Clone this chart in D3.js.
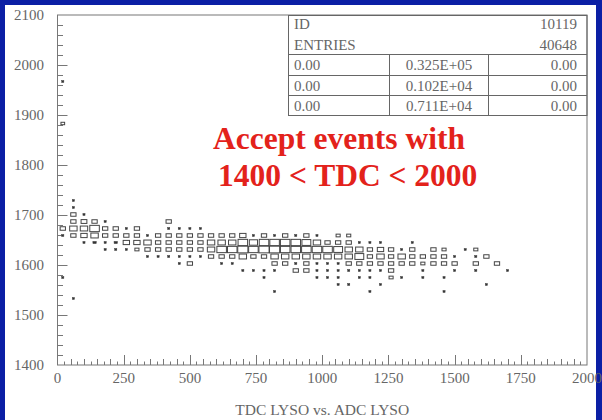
<!DOCTYPE html>
<html>
<head>
<meta charset="utf-8">
<script src="https://cdn.jsdelivr.net/npm/d3@7/dist/d3.min.js"></script>
<style>
	body { margin: 0; background: #0b1fa5; }
	svg { display: block; }
</style>
</head>
<body>
<script>
// 2D histogram: ADC LYSO (x, 40 wide bins from 0) vs TDC LYSO (y, 14 wide bins from 1400)
var adcBinWidth = 40;
var tdcBinWidth = 14;

// lower edge of each TDC bin that has entries
var tdcBins = [1960, 1876, 1722, 1708, 1694, 1680, 1666, 1652, 1638, 1624, 1610, 1596, 1582, 1568, 1554, 1540, 1526];

// counts per ADC bin (0..42) for each TDC bin
var tdc1960 = [40,0,0,0,0,0,0,0,0,0, 0,0,0,0,0,0,0,0,0,0, 0,0,0,0,0,0,0,0,0,0, 0,0,0,0,0,0,0,0,0,0, 0,0,0];
var tdc1876 = [120,0,0,0,0,0,0,0,0,0, 0,0,0,0,0,0,0,0,0,0, 0,0,0,0,0,0,0,0,0,0, 0,0,0,0,0,0,0,0,0,0, 0,0,0];
var tdc1722 = [0,40,0,0,0,0,0,0,0,0, 0,0,0,0,0,0,0,0,0,0, 0,0,0,0,0,0,0,0,0,0, 0,0,0,0,0,0,0,0,0,0, 0,0,0];
var tdc1708 = [0,40,0,0,0,0,0,0,0,0, 0,0,0,0,0,0,0,0,0,0, 0,0,0,0,0,0,0,0,0,0, 0,0,0,0,0,0,0,0,0,0, 0,0,0];
var tdc1694 = [0,250,40,0,0,0,0,0,0,0, 0,0,0,0,0,0,0,0,0,0, 0,0,0,0,0,0,0,0,0,0, 0,0,0,0,0,0,0,0,0,0, 0,0,0];
var tdc1680 = [0,250,300,250,40,0,0,0,0,0, 250,0,0,0,0,0,0,0,0,0, 0,0,0,0,0,0,0,0,0,0, 0,0,0,0,0,0,0,0,0,0, 0,0,0];
var tdc1666 = [250,490,490,810,250,250,40,250,0,0, 40,40,40,40,0,0,0,0,0,0, 0,0,0,0,0,0,0,0,0,0, 0,0,0,0,0,0,0,0,0,0, 0,0,0];
var tdc1652 = [40,250,360,490,250,250,250,250,40,250, 250,250,250,250,250,250,250,360,40,250, 40,250,40,250,40,0,150,150,0,0, 0,0,0,0,0,0,0,0,0,0, 0,0,0];
var tdc1638 = [0,0,40,100,40,100,360,360,490,250, 250,250,250,250,490,490,490,810,600,810, 810,810,810,700,490,250,250,250,40,40, 40,0,0,40,0,0,0,0,0,0, 0,0,0];
var tdc1624 = [0,0,0,0,40,40,40,150,250,250, 250,250,250,250,490,810,810,920,810,920, 920,810,810,810,810,810,700,490,490,250, 360,250,40,250,0,250,150,0,40,150, 0,0,0];
var tdc1610 = [0,0,0,0,0,0,0,0,40,40, 40,40,40,40,250,250,250,490,250,250, 490,490,490,490,490,490,490,490,700,250, 490,250,490,250,250,250,250,40,0,40, 250,0,0];
var tdc1596 = [0,0,0,0,0,0,0,0,0,0, 0,40,250,0,0,40,40,0,0,0, 250,250,40,250,40,40,40,250,250,250, 250,250,250,250,150,250,250,250,0,250, 0,250,0];
var tdc1582 = [0,0,0,0,0,0,0,0,0,0, 0,0,0,0,0,0,0,40,40,40, 40,0,250,250,40,40,40,40,40,40, 40,250,0,0,40,0,0,40,0,40, 0,0,40];
var tdc1568 = [40,0,0,0,0,0,0,0,0,0, 0,0,0,0,0,0,0,0,0,40, 0,0,0,0,40,40,40,0,40,40, 0,150,40,0,40,0,40,0,0,0, 0,0,0];
var tdc1554 = [0,0,0,0,0,0,0,0,0,0, 0,0,0,0,0,0,0,0,0,0, 0,0,0,0,0,0,40,40,0,0, 40,0,0,0,0,0,0,0,0,0, 40,0,0];
var tdc1540 = [0,0,0,0,0,0,0,0,0,0, 0,0,0,0,0,0,0,0,0,0, 40,0,0,0,0,0,0,0,0,40, 0,0,0,0,0,0,40,0,0,0, 0,0,0];
var tdc1526 = [0,40,0,0,0,0,0,0,0,0, 0,0,0,0,0,0,0,0,0,0, 0,0,0,0,0,0,0,0,0,0, 0,0,0,0,0,0,0,0,0,0, 0,0,0];

var rows = [tdc1960, tdc1876, tdc1722, tdc1708, tdc1694, tdc1680, tdc1666, tdc1652,
	tdc1638, tdc1624, tdc1610, tdc1596, tdc1582, tdc1568, tdc1554, tdc1540, tdc1526];

// axis labels
var xTickLabels = [0, 250, 500, 750, 1000, 1250, 1500, 1750, 2000];
var yTickLabels = [1400, 1500, 1600, 1700, 1800, 1900, 2000, 2100];

// statistics box
var statId = "10119";
var statEntries = "40648";
var statRows = [
	["0.00", "0.325E+05", "0.00"],
	["0.00", "0.102E+04", "0.00"],
	["0.00", "0.711E+04", "0.00"]
];

var title = "TDC LYSO vs. ADC LYSO";
var note = ["Accept events with", "1400 < TDC < 2000"];

var width = 602;
var height = 420;
var gray = "#666";
var serif = "'Liberation Serif', 'Times New Roman', serif";

var svg = d3.select("body").append("svg")
	.attr("width", width)
	.attr("height", height);

// white slide area inside the blue border
svg.append("rect")
	.attr("x", 5).attr("y", 5)
	.attr("width", 591).attr("height", 415)
	.attr("fill", "#fff");

var x = d3.scaleLinear().domain([0, 2000]).range([57.5, 587]);
var y = d3.scaleLinear().domain([1400, 2100]).range([365, 15]);

/* frame */
svg.append("rect")
	.attr("x", x(0)).attr("y", y(2100))
	.attr("width", x(2000) - x(0)).attr("height", y(1400) - y(2100))
	.attr("fill", "none")
	.attr("stroke", "#777")
	.attr("stroke-width", 1);

/* y ticks: minor every 20, major every 100, pointing inward */
var yTicks = svg.append("g").attr("stroke", "#777").attr("stroke-width", 1);
yTicks.selectAll("line")
	.data(d3.range(1420, 2100, 20))
	.enter().append("line")
		.attr("x1", x(0))
		.attr("x2", function(d) { return x(0) + (d % 100 === 0 ? 10 : 5.5); })
		.attr("y1", function(d) { return Math.round(y(d)) + 0.5; })
		.attr("y2", function(d) { return Math.round(y(d)) + 0.5; });

/* x ticks: major every 250, secondary every 50, small every 25 */
var xTicks = svg.append("g").attr("stroke", "#777").attr("stroke-width", 1);
xTicks.selectAll("line")
	.data(d3.range(25, 2000, 25))
	.enter().append("line")
		.attr("x1", function(d) { return Math.round(x(d)) + 0.5; })
		.attr("x2", function(d) { return Math.round(x(d)) + 0.5; })
		.attr("y1", y(1400))
		.attr("y2", function(d) {
			var len = d % 250 === 0 ? 10 : (d % 50 === 0 ? 6 : 3.5);
			return y(1400) - len;
		});

svg.append("g").selectAll("text")
	.data(yTickLabels)
	.enter().append("text")
		.attr("x", 44)
		.attr("y", function(d) { return y(d); })
		.attr("dy", "0.35em")
		.attr("text-anchor", "end")
		.attr("font-family", serif)
		.attr("font-size", 15)
		.attr("fill", gray)
		.text(function(d) { return d; });

svg.append("g").selectAll("text")
	.data(xTickLabels)
	.enter().append("text")
		.attr("x", function(d) { return x(d); })
		.attr("y", 383)
		.attr("text-anchor", "middle")
		.attr("font-family", serif)
		.attr("font-size", 15)
		.attr("fill", gray)
		.text(function(d) { return d; });

svg.append("text")
	.attr("x", (x(0) + x(2000)) / 2)
	.attr("y", 415)
	.attr("text-anchor", "middle")
	.attr("font-family", serif)
	.attr("font-size", 15.5)
	.attr("fill", gray)
	.text(title);

/* boxes */
var cells = [];
tdcBins.forEach(function(lo, r) {
	rows[r].forEach(function(c, i) {
		if (c > 0) cells.push({ adc: i * adcBinWidth, tdc: lo, count: c });
	});
});

var maxCount = 1000;
var cellW = x(adcBinWidth) - x(0);
var cellH = y(1400) - y(1400 + tdcBinWidth);

svg.append("g").selectAll("rect")
	.data(cells)
	.enter().append("rect")
		.each(function(d) {
			var f = Math.sqrt(d.count / maxCount);
			d.w = Math.max(2, f * cellW);
			d.h = Math.max(2, f * cellH);
			d.cx = x(d.adc + adcBinWidth / 2);
			d.cy = y(d.tdc + tdcBinWidth / 2);
		})
		.attr("x", function(d) { return d.cx - d.w / 2; })
		.attr("y", function(d) { return d.cy - d.h / 2; })
		.attr("width", function(d) { return d.w; })
		.attr("height", function(d) { return d.h; })
		.attr("fill", function(d) { return d.w < 3.5 ? "#333" : "none"; })
		.attr("stroke", "#444")
		.attr("stroke-width", function(d) { return d.w < 3.5 ? 0.5 : 1; });

/* statistics box */
var box = svg.append("g")
	.attr("fill", "none")
	.attr("stroke", "#666")
	.attr("stroke-width", 1);
box.append("rect")
	.attr("x", 288.5).attr("y", 15.5)
	.attr("width", 587 - 288.5).attr("height", 100);
[54.5, 75.5, 95.5].forEach(function(yy) {
	box.append("line").attr("x1", 288.5).attr("x2", 587).attr("y1", yy).attr("y2", yy);
});
[389.5, 488.5].forEach(function(xx) {
	box.append("line").attr("x1", xx).attr("x2", xx).attr("y1", 54.5).attr("y2", 115.5);
});

function statText(tx, ty, anchor, s) {
	svg.append("text")
		.attr("x", tx).attr("y", ty)
		.attr("text-anchor", anchor)
		.attr("font-family", serif)
		.attr("font-size", 15)
		.attr("fill", gray)
		.text(s);
}
statText(294, 29, "start", "ID");
statText(577, 29, "end", statId);
statText(294, 50, "start", "ENTRIES");
statText(577, 50, "end", statEntries);
var rowBase = [70, 91, 111];
statRows.forEach(function(r, k) {
	statText(294, rowBase[k], "start", r[0]);
	statText(439, rowBase[k], "middle", r[1]);
	statText(577, rowBase[k], "end", r[2]);
});

/* red annotation */
svg.append("text")
	.attr("x", 213).attr("y", 149)
	.attr("font-family", serif)
	.attr("font-weight", "bold")
	.attr("font-size", 31.5)
	.attr("fill", "#e3221b")
	.text(note[0]);
svg.append("text")
	.attr("x", 218).attr("y", 186)
	.attr("font-family", serif)
	.attr("font-weight", "bold")
	.attr("font-size", 31.5)
	.attr("fill", "#e3221b")
	.text(note[1]);
</script>
</body>
</html>
